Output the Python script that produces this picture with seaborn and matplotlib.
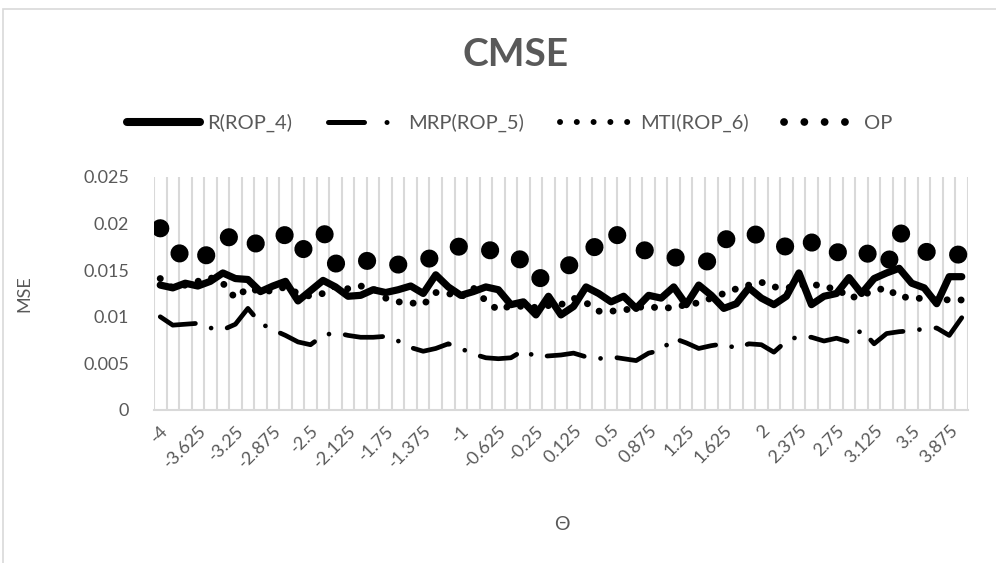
import numpy as np
import pandas as pd
import matplotlib
matplotlib.use("Agg")
import matplotlib.pyplot as plt
from matplotlib.lines import Line2D
from matplotlib.patches import Rectangle
import seaborn as sns

# categories: theta from -4 to 4, step 0.125
theta = np.linspace(-4, 4, 65)
theta_labels = [f"{t:g}" for t in theta]

r_rop4 = [0.0134, 0.0131, 0.0136, 0.0133, 0.0138, 0.0147, 0.0141, 0.0140, 0.0127, 0.0133,
          0.0138, 0.0117, 0.0128, 0.0139, 0.0132, 0.0122, 0.0123, 0.0129, 0.0126, 0.0129,
          0.0133, 0.0125, 0.0145, 0.0132, 0.0123, 0.0127, 0.0132, 0.0129, 0.0113, 0.0116,
          0.0102, 0.0122, 0.0102, 0.0111, 0.0132, 0.0125, 0.0116, 0.0122, 0.0109, 0.0123,
          0.0120, 0.0132, 0.0113, 0.0134, 0.0123, 0.0109, 0.0114, 0.0131, 0.0120, 0.0113,
          0.0122, 0.0147, 0.0113, 0.0122, 0.0125, 0.0142, 0.0125, 0.0141, 0.0147, 0.0152,
          0.0136, 0.0131, 0.0114, 0.0143, 0.0143]

mrp_rop5 = [0.0100, 0.0091, 0.0092, 0.0093, 0.0088, 0.0086, 0.0092, 0.0109, 0.0093, 0.0086,
            0.0080, 0.0073, 0.0070, 0.0080, 0.0083, 0.0080, 0.0078, 0.0078, 0.0079, 0.0074,
            0.0067, 0.0063, 0.0066, 0.0071, 0.0066, 0.0060, 0.0056, 0.0055, 0.0056, 0.0064,
            0.0057, 0.0058, 0.0059, 0.0061, 0.0057, 0.0055, 0.0057, 0.0055, 0.0053, 0.0061,
            0.0064, 0.0077, 0.0072, 0.0066, 0.0069, 0.0071, 0.0066, 0.0071, 0.0070, 0.0062,
            0.0074, 0.0079, 0.0078, 0.0074, 0.0077, 0.0073, 0.0086, 0.0071, 0.0082, 0.0084,
            0.0085, 0.0087, 0.0088, 0.0080, 0.0099]

mti_rop6 = [0.0141, 0.0131, 0.0134, 0.0138, 0.0142, 0.0136, 0.0120, 0.0131, 0.0127, 0.0128,
            0.0132, 0.0125, 0.0122, 0.0125, 0.0133, 0.0130, 0.0133, 0.0130, 0.0120, 0.0116,
            0.0115, 0.0113, 0.0126, 0.0125, 0.0121, 0.0131, 0.0117, 0.0107, 0.0112, 0.0111,
            0.0110, 0.0112, 0.0113, 0.0120, 0.0115, 0.0106, 0.0106, 0.0107, 0.0110, 0.0111,
            0.0109, 0.0110, 0.0113, 0.0115, 0.0120, 0.0125, 0.0130, 0.0134, 0.0137, 0.0132,
            0.0131, 0.0133, 0.0136, 0.0131, 0.0131, 0.0120, 0.0123, 0.0128, 0.0131, 0.0121,
            0.0121, 0.0119, 0.0119, 0.0118, 0.0118]

op = [0.0195, 0.0175, 0.0162, 0.0170, 0.0164, 0.0180, 0.0191, 0.0183, 0.0176, 0.0182,
      0.0188, 0.0167, 0.0180, 0.0193, 0.0157, 0.0160, 0.0162, 0.0158, 0.0155, 0.0156,
      0.0158, 0.0160, 0.0165, 0.0171, 0.0176, 0.0174, 0.0172, 0.0170, 0.0168, 0.0159,
      0.0139, 0.0146, 0.0150, 0.0158, 0.0164, 0.0180, 0.0193, 0.0182, 0.0174, 0.0170,
      0.0166, 0.0164, 0.0161, 0.0160, 0.0159, 0.0182, 0.0188, 0.0192, 0.0185, 0.0179,
      0.0175, 0.0186, 0.0180, 0.0166, 0.0169, 0.0171, 0.0173, 0.0162, 0.0153, 0.0191,
      0.0180, 0.0170, 0.0168, 0.0166, 0.0167]

names = ["R(ROP_4)", "MRP(ROP_5)", "MTI(ROP_6)", "OP"]

sns.set_style("white")
plt.rcParams["font.family"] = ["Lato", "DejaVu Sans"]

grey = "#595959"
light = "#D9D9D9"

pos = np.arange(len(theta))
df = pd.DataFrame({"pos": pos, names[0]: r_rop4, names[1]: mrp_rop5,
                   names[2]: mti_rop6, names[3]: op})

fig = plt.figure(figsize=(9.96, 5.63), dpi=100)
ax = fig.add_axes([0.1546, 0.2718, 0.8173, 0.4139])

sns.lineplot(data=df, x="pos", y=names[0], ax=ax, color="black", linewidth=5.2,
             solid_joinstyle="round", solid_capstyle="round")
sns.lineplot(data=df, x="pos", y=names[1], ax=ax, color="black", linewidth=3.4,
             linestyle=(0, (8, 3.5, 0.01, 3.5)), dash_capstyle="round", dash_joinstyle="round")
sns.lineplot(data=df, x="pos", y=names[2], ax=ax, color="black", linewidth=5,
             linestyle=(0, (0.01, 2)), dash_capstyle="round")
sns.lineplot(data=df, x="pos", y=names[3], ax=ax, color="black", linewidth=13,
             linestyle=(0, (0.01, 1.75)), dash_capstyle="round")

ax.set_xlim(-0.5, len(theta) - 0.5)
ax.set_ylim(0, 0.025)
ax.set_yticks([0, 0.005, 0.01, 0.015, 0.02, 0.025])
ax.set_yticklabels(["0", "0.005", "0.01", "0.015", "0.02", "0.025"])
ax.set_xticks(pos[::3])
ax.set_xticklabels(theta_labels[::3], rotation=45, ha="right", rotation_mode="anchor")
ax.set_xticks(np.arange(-0.5, len(theta), 1), minor=True)

ax.set_axisbelow(True)
ax.grid(False)
ax.grid(which="minor", axis="x", color=light, linewidth=1.5)

ax.tick_params(axis="x", which="major", length=0, pad=9, labelsize=13, labelcolor=grey)
ax.tick_params(axis="x", which="minor", length=4, color=light, width=1.5)
ax.tick_params(axis="y", length=0, pad=18, labelsize=13, labelcolor=grey)

for s in ["left", "right", "top"]:
    ax.spines[s].set_visible(False)
ax.spines["bottom"].set_color(light)
ax.spines["bottom"].set_linewidth(1.5)

ax.set_xlabel("Θ", fontsize=14, color=grey)
ax.set_ylabel("MSE", fontsize=13, color=grey)
ax.xaxis.set_label_coords(0.501, -0.455)
ax.yaxis.set_label_coords(-0.149, 0.5)

fig.text(0.518, 1 - 55 / 563, "CMSE", ha="center", va="center",
         fontsize=28, fontweight="bold", color=grey)

handles = [
    Line2D([], [], color="black", linewidth=5.8, solid_capstyle="round"),
    Line2D([], [], color="black", linewidth=3.6, linestyle=(0, (7.2, 4.5, 0.01, 4.5)),
           dash_capstyle="round"),
    Line2D([], [], color="black", linewidth=4.3, linestyle=(0, (0.01, 2.8)), dash_capstyle="round"),
    Line2D([], [], color="black", linewidth=5.6, linestyle=(0, (0.01, 2.6)), dash_capstyle="round"),
]
fig.legend(handles, names, loc="center", bbox_to_anchor=(0.512, 1 - 123 / 563), ncol=4,
           frameon=False, fontsize=14.5, labelcolor=grey, handlelength=3.6,
           handletextpad=0.4, columnspacing=1.75)

fig.patches.append(Rectangle((3 / 996, -0.1), 1.2, 1 - 9 / 563 + 0.1, transform=fig.transFigure,
                             fill=False, edgecolor=light, linewidth=1.2))

fig.savefig("out.png", dpi=100)
